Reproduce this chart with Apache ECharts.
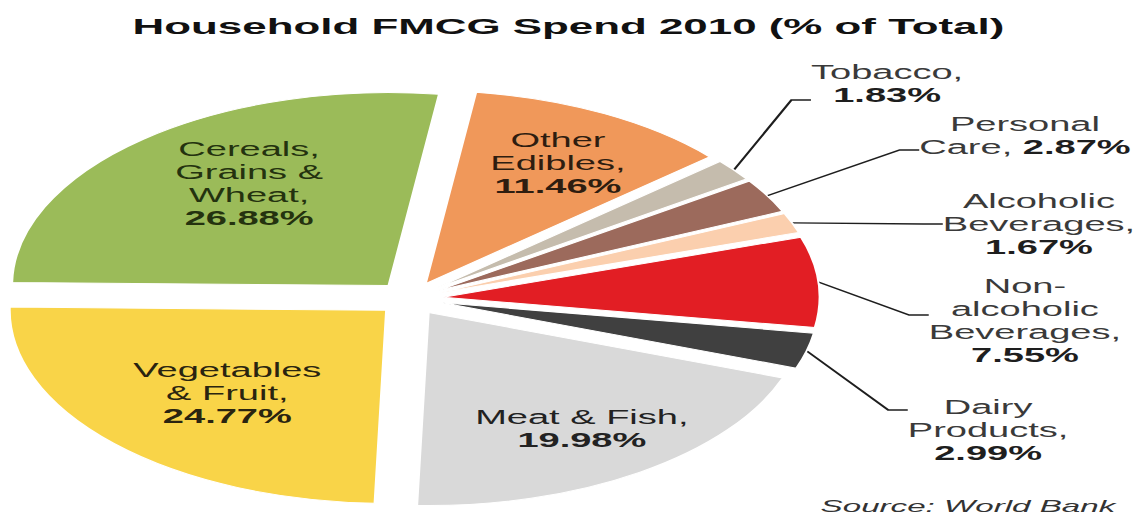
<!DOCTYPE html>
<html>
<head>
<meta charset="utf-8">
<title>Household FMCG Spend 2010</title>
<script src="https://cdn.jsdelivr.net/npm/echarts@6/dist/echarts.min.js"></script>
<style>
  html, body { margin: 0; padding: 0; background: #fff; overflow: hidden; }
  #stage { width: 1137px; height: 524px; overflow: hidden; position: relative; }
  /* the chart is laid out narrow and stretched back out horizontally, giving the wide oval pie */
  #chart { width: 583.08px; height: 524px; transform: scaleX(1.95); transform-origin: 0 0; }
</style>
</head>
<body>
<div id="stage"><div id="chart"></div></div>
<script>
// Slices, clockwise from the top
const categories = [
  'Other\nEdibles',
  'Tobacco',
  'Personal\nCare',
  'Alcoholic\nBeverages',
  'Non-\nalcoholic\nBeverages',
  'Dairy\nProducts',
  'Meat & Fish',
  'Vegetables\n& Fruit',
  'Cereals,\nGrains &\nWheat'
];
// Share of total household FMCG spend, %
const shares = [11.46, 1.83, 2.87, 1.67, 7.55, 2.99, 19.98, 24.77, 26.88];
// Whether the percentage starts a new line or follows the name
const valueBreaks = ['\n', '\n', ' ', '\n', '\n', '\n', '\n', '\n', '\n'];
// Slices labelled inside the sector
const insideSlices = ['Other\nEdibles', 'Meat & Fish', 'Vegetables\n& Fruit', 'Cereals,\nGrains &\nWheat'];

const sliceColors = ['#f0985a', '#c5bcad', '#9c6a5c', '#fbcfae', '#e21e24', '#404040', '#d9d9d9', '#f9d448', '#9bbb59'];
const insideTextColors = { 'Other\nEdibles': '#2e1d10', 'Meat & Fish': '#222222', 'Vegetables\n& Fruit': '#2a2410', 'Cereals,\nGrains &\nWheat': '#24320f' };

// ---- layout ----
const FONT = '"Liberation Sans", Arial, sans-serif';
const CENTER = [210.3, 298.5];
const RADIUS = 193;
const EXPLODE = 17;
const START = 82.3;
// callout blocks to the right of the pie: point where the leader meets the block,
// and the padding [top, bottom] that sets which text line the leader points at
const outsideLabelAnchors = {
  'Tobacco': [454.9, 100],
  'Personal\nCare': [525.6, 150],
  'Alcoholic\nBeverages': [532.8, 224],
  'Non-\nalcoholic\nBeverages': [525.6, 315],
  'Dairy\nProducts': [506.7, 410]
};
const outsideLabelPads = {
  'Tobacco': [0, 32],
  'Personal\nCare': [0, 28],
  'Alcoholic\nBeverages': [0, 0],
  'Non-\nalcoholic\nBeverages': [12, 0],
  'Dairy\nProducts': [40, 0]
};
// small shifts of the in-slice labels from their default spot
const insideLabelNudges = {
  'Other\nEdibles': [4.5, -3],
  'Meat & Fish': [3.6, 5.7],
  'Vegetables\n& Fruit': [15, -9.3],
  'Cereals,\nGrains &\nWheat': [15.4, -1]
};

function labelText(p) {
  const i = p.dataIndex;
  const lines = categories[i].split('\n');
  lines[lines.length - 1] += ',';
  const head = lines.map(l => '{n|' + l + '}').join('\n');
  const val = '{v|' + shares[i].toFixed(2) + '%}';
  return valueBreaks[i] === '\n' ? head + '\n' + val : head.replace(/\}$/, ' }') + val;
}

function richStyles(color, boldColor) {
  return {
    n: { fontFamily: FONT, fontSize: 19.5, lineHeight: 23, color: color, align: 'center' },
    v: { fontFamily: FONT, fontSize: 19.5, lineHeight: 23, fontWeight: 'bold', color: boldColor, align: 'center' }
  };
}

// exploded slices
const sliceData = categories.map((name, i) => ({
  name: name,
  value: shares[i],
  selected: true,
  itemStyle: { color: sliceColors[i] }
}));

// labels sitting inside the large slices
const insideLabelData = categories.map((name, i) => {
  const c = insideTextColors[name] || '#222';
  return {
    name: name,
    value: shares[i],
    label: { show: insideSlices.includes(name), rich: richStyles(c, c) }
  };
});

// callout labels with leader lines for the small slices
const calloutData = categories.map((name, i) => {
  const show = !insideSlices.includes(name);
  const pad = outsideLabelPads[name] || [0, 0];
  return {
    name: name,
    value: shares[i],
    label: { show: show, padding: [pad[0], 0, pad[1], 0], backgroundColor: 'rgba(255,255,255,0)' },
    labelLine: { show: show }
  };
});

const chart = echarts.init(document.getElementById('chart'), null, { renderer: 'svg' });
chart.setOption({
  animation: false,
  backgroundColor: '#ffffff',
  title: [
    {
      text: 'Household FMCG Spend 2010 (% of Total)',
      left: 'center',
      top: 9,
      textStyle: { fontFamily: FONT, fontSize: 22.5, fontWeight: 'bold', color: '#111111' }
    },
    {
      text: 'Source: World Bank',
      right: 6,
      bottom: 4,
      textStyle: { fontFamily: FONT, fontSize: 17, fontStyle: 'italic', fontWeight: 'normal', color: '#333333' }
    }
  ],
  series: [
    {
      type: 'pie',
      center: CENTER,
      radius: RADIUS,
      startAngle: START,
      selectedMode: 'multiple',
      selectedOffset: EXPLODE,
      silent: true,
      emphasis: { disabled: true },
      itemStyle: { borderColor: '#ffffff', borderWidth: 1 },
      select: { itemStyle: { borderColor: '#ffffff', borderWidth: 1 } },
      label: { show: false },
      labelLine: { show: false },
      data: sliceData
    },
    {
      // same slices at the exploded outer edge, carrying the callouts
      type: 'pie',
      center: CENTER,
      radius: RADIUS + EXPLODE,
      startAngle: START,
      selectedMode: false,
      silent: true,
      avoidLabelOverlap: false,
      emphasis: { disabled: true },
      itemStyle: { color: 'rgba(0,0,0,0)' },
      label: {
        position: 'outside',
        formatter: labelText,
        rich: richStyles('#3a3a3a', '#1e1e1e')
      },
      labelLine: { length: 20, length2: 10, lineStyle: { color: '#1e1e1e', width: 1.3 } },
      labelLayout: function (p) {
        const a = outsideLabelAnchors[categories[p.dataIndex]];
        if (!a) return {};
        return { x: a[0], y: a[1], align: 'center', verticalAlign: 'middle' };
      },
      data: calloutData
    },
    {
      // ring through the middle of the exploded slices, carrying the in-slice labels
      type: 'pie',
      center: CENTER,
      radius: [RADIUS * 0.5 + EXPLODE, RADIUS * 0.85 + EXPLODE],
      startAngle: START,
      selectedMode: false,
      silent: true,
      avoidLabelOverlap: false,
      emphasis: { disabled: true },
      itemStyle: { color: 'rgba(0,0,0,0)' },
      label: { position: 'inside', formatter: labelText },
      labelLine: { show: false },
      labelLayout: function (p) {
        const n = insideLabelNudges[categories[p.dataIndex]];
        if (!n) return {};
        const r = p.labelRect;
        return { x: r.x + r.width / 2 + n[0], y: r.y + r.height / 2 + n[1], align: 'center', verticalAlign: 'middle' };
      },
      data: insideLabelData
    }
  ]
});
</script>
</body>
</html>
